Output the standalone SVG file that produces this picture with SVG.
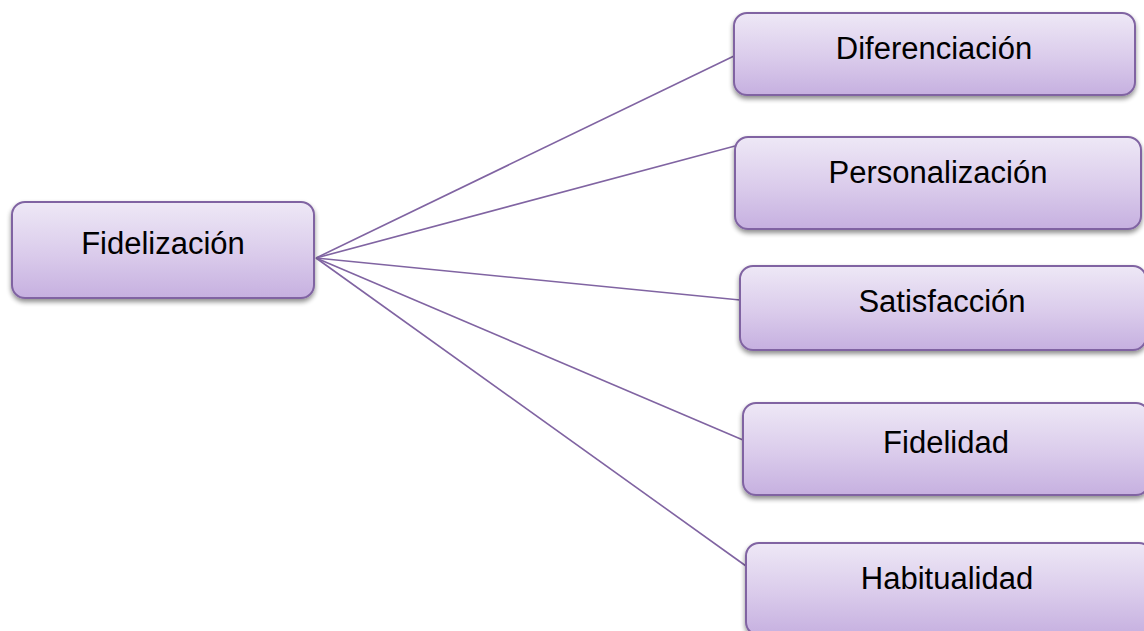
<svg xmlns="http://www.w3.org/2000/svg" width="1144" height="631" viewBox="0 0 1144 631">
<defs>
<linearGradient id="g" x1="0" y1="0" x2="0" y2="1">
<stop offset="0" stop-color="#EEE8F6"/>
<stop offset="0.55" stop-color="#DACBEB"/>
<stop offset="1" stop-color="#C6B0E0"/>
</linearGradient>
<filter id="sh" x="-10%" y="-10%" width="120%" height="130%">
<feGaussianBlur in="SourceAlpha" stdDeviation="2.5"/>
<feOffset dx="0" dy="3" result="b"/>
<feComponentTransfer><feFuncA type="linear" slope="0.45"/></feComponentTransfer>
<feMerge><feMergeNode/><feMergeNode in="SourceGraphic"/></feMerge>
</filter>
</defs>
<style>
.box{fill:url(#g);stroke:#8064A2;stroke-width:2;filter:url(#sh)}
.lbl{font-family:"Liberation Sans",Arial,sans-serif;font-size:31px;fill:#000;text-anchor:middle}
.con{stroke:#8064A2;stroke-width:1.6;fill:none}
</style>
<rect width="1144" height="631" fill="#fff"/>
<g id="connectors">
<line class="con" x1="316" y1="258" x2="734" y2="56"/>
<line class="con" x1="316" y1="258" x2="735" y2="146"/>
<line class="con" x1="316" y1="258" x2="740" y2="300"/>
<line class="con" x1="316" y1="258" x2="743" y2="440"/>
<line class="con" x1="316" y1="258" x2="746" y2="566"/>
</g>
<g id="fidelizacion">
<rect class="box" x="12" y="202" width="302" height="96" rx="13"/>
<text class="lbl" x="163" y="254">Fidelización</text>
</g>
<g id="diferenciacion">
<rect class="box" x="734" y="13" width="401" height="82" rx="13"/>
<text class="lbl" x="934" y="59">Diferenciación</text>
</g>
<g id="personalizacion">
<rect class="box" x="735" y="137" width="406" height="92" rx="13"/>
<text class="lbl" x="938" y="183">Personalización</text>
</g>
<g id="satisfaccion">
<rect class="box" x="740" y="266" width="406" height="84" rx="13"/>
<text class="lbl" x="942" y="312">Satisfacción</text>
</g>
<g id="fidelidad">
<rect class="box" x="743" y="403" width="406" height="92" rx="13"/>
<text class="lbl" x="946" y="453">Fidelidad</text>
</g>
<g id="habitualidad">
<rect class="box" x="746" y="543" width="406" height="92" rx="13"/>
<text class="lbl" x="947" y="589">Habitualidad</text>
</g>
</svg>
